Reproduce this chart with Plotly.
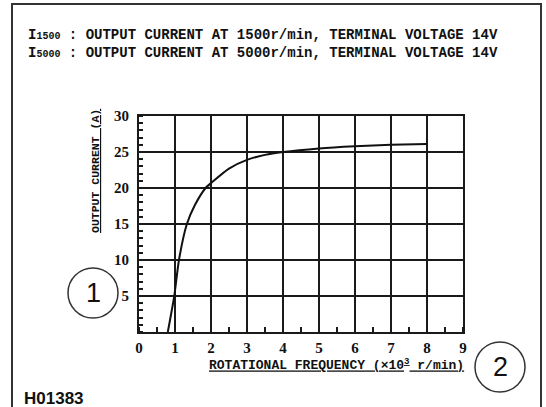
import plotly.graph_objects as go

# Alternator output characteristic: current vs rotational speed
speed_krpm = [0.8, 0.98, 1.11, 1.33, 1.55, 1.85, 2.05, 2.5, 3.0, 3.5, 4.0, 5.0, 6.0, 7.0, 8.0]
current_a = [0, 5, 10, 15, 17.6, 20, 20.9, 22.7, 23.9, 24.6, 25.0, 25.5, 25.8, 26.0, 26.1]

x_ticks = [0, 1, 2, 3, 4, 5, 6, 7, 8, 9]
y_ticks = [0, 5, 10, 15, 20, 25, 30]

header_lines = [
    "I<span style='font-size:10px'>1500</span> : OUTPUT CURRENT AT 1500r/min, TERMINAL VOLTAGE 14V",
    "I<span style='font-size:10px'>5000</span> : OUTPUT CURRENT AT 5000r/min, TERMINAL VOLTAGE 14V",
]
x_title = "<span style='text-decoration:underline'>ROTATIONAL FREQUENCY (×10<sup>3</sup> r/min)</span>"
y_title = "<span style='text-decoration:underline'>OUTPUT CURRENT (A)</span>"
figure_code = "H01383"

W, H = 546, 407
L, R, T, B = 139, 463, 116, 332  # plot area in pixels


def px(xp):
    return (xp - L) / (R - L)


def py(yp):
    return (B - yp) / (B - T)


ink = "#1a1a1a"
mono = "Liberation Mono"
serif = "Liberation Serif"

fig = go.Figure()
fig.add_trace(go.Scatter(
    x=speed_krpm, y=current_a, mode="lines",
    line=dict(color="#111111", width=2, shape="spline", smoothing=0.6),
    hoverinfo="skip", showlegend=False,
))

axis_common = dict(
    showline=True, linecolor=ink, linewidth=2, mirror=True,
    showgrid=True, gridcolor=ink, gridwidth=2,
    zeroline=False, ticks="", fixedrange=True,
    tickfont=dict(family=serif, size=15, color="#111111", weight="bold"),
)

fig.update_xaxes(
    range=[0, 9], tickvals=x_ticks, ticktext=[str(v) for v in x_ticks],
    ticklabelstandoff=1,
    minor=dict(dtick=0.5, tick0=0, ticks="inside", ticklen=5, tickcolor=ink, tickwidth=1.5, showgrid=False),
    **axis_common,
)
fig.update_yaxes(
    range=[0, 30], tickvals=y_ticks, ticktext=["", "5", "10", "15", "20", "25", "30"],
    ticklabelstandoff=5,
    minor=dict(dtick=1, tick0=0, ticks="inside", ticklen=4, tickcolor=ink, tickwidth=1.5, showgrid=False),
    **axis_common,
)

annotations = []
for i, line in enumerate(header_lines):
    annotations.append(dict(
        text=line, xref="paper", yref="paper", x=px(26), y=py(35 + 18 * i),
        xanchor="left", yanchor="middle", showarrow=False,
        font=dict(family=mono, size=14, color="#111111", weight="bold"),
    ))
annotations += [
    dict(text=x_title, xref="paper", yref="paper", x=px(466), y=py(364),
         xanchor="right", yanchor="middle", showarrow=False,
         font=dict(family=mono, size=13, color="#111111", weight="bold")),
    dict(text=y_title, xref="paper", yref="paper", x=px(95), y=py(171),
         xanchor="center", yanchor="middle", textangle=-90, showarrow=False,
         font=dict(family=mono, size=11.5, color="#111111", weight="bold")),
    dict(text=figure_code, xref="paper", yref="paper", x=px(22), y=py(398),
         xanchor="left", yanchor="middle", showarrow=False,
         font=dict(family="Liberation Sans", size=17, color="#111111", weight="bold")),
    dict(text="1", xref="paper", yref="paper", x=px(93), y=py(293),
         xanchor="center", yanchor="middle", showarrow=False,
         font=dict(family="Liberation Sans", size=27, color="#111111")),
    dict(text="2", xref="paper", yref="paper", x=px(500), y=py(367),
         xanchor="center", yanchor="middle", showarrow=False,
         font=dict(family="Liberation Sans", size=27, color="#111111")),
]

shapes = [
    # outer frame (bottom edge runs past the page)
    dict(type="rect", xref="paper", yref="paper",
         x0=px(12), x1=px(541), y0=py(420), y1=py(4),
         line=dict(color="#333333", width=2), fillcolor="rgba(0,0,0,0)", layer="below"),
    dict(type="circle", xref="paper", yref="paper",
         x0=px(68), x1=px(118), y0=py(318), y1=py(268),
         line=dict(color="#333333", width=1.5)),
    dict(type="circle", xref="paper", yref="paper",
         x0=px(475), x1=px(525), y0=py(392), y1=py(342),
         line=dict(color="#333333", width=1.5)),
]

fig.update_layout(
    width=W, height=H,
    margin=dict(l=L, r=W - R, t=T, b=H - B, pad=0),
    paper_bgcolor="white", plot_bgcolor="white",
    annotations=annotations, shapes=shapes, showlegend=False,
)

fig.write_html("out.html", config={"displayModeBar": False})
